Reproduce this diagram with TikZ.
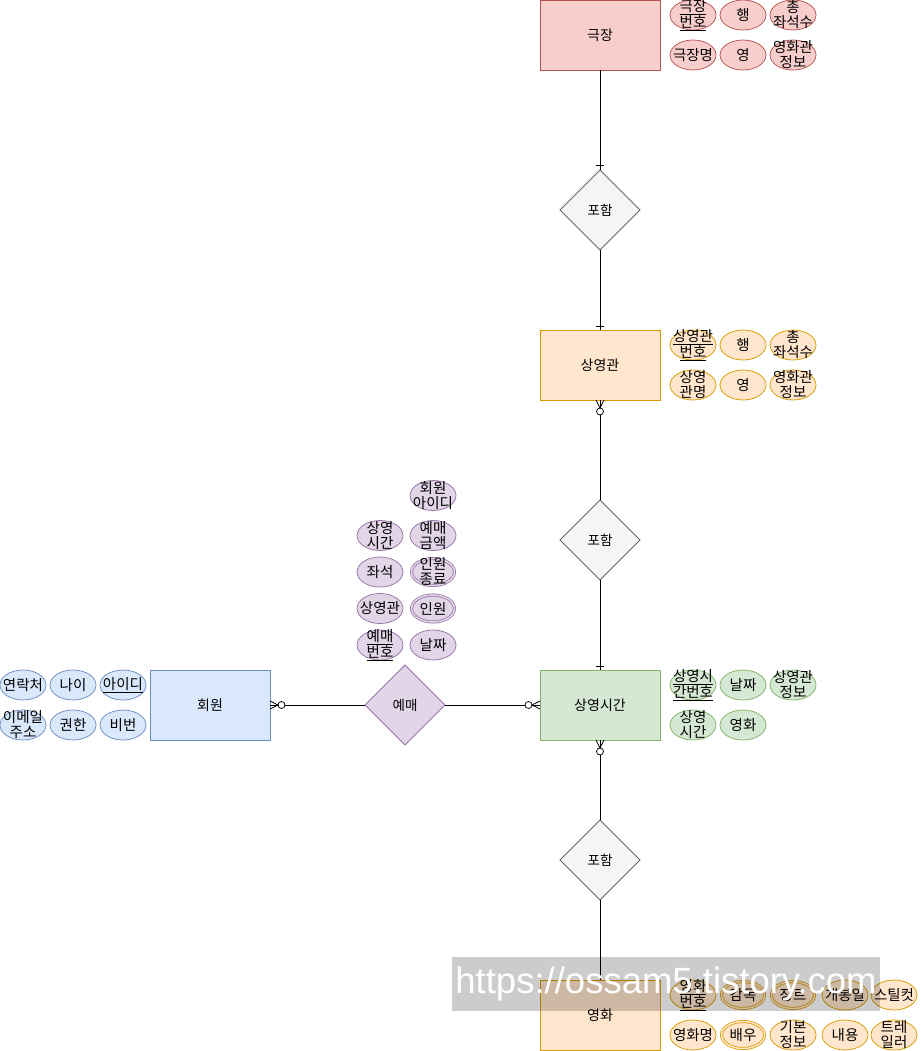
\documentclass[tikz,border=0pt]{standalone}
\usepackage{fontspec}
\setmainfont{Noto Sans CJK KR}
\newfontfamily\urlfont{Liberation Sans}
\usepackage{tikz}
\usetikzlibrary{positioning,shapes.geometric,calc}
\definecolor{roseFill}{HTML}{F8CECC}
\definecolor{roseLine}{HTML}{B85450}
\definecolor{peachFill}{HTML}{FFE6CC}
\definecolor{peachLine}{HTML}{D79B00}
\definecolor{sageFill}{HTML}{D5E8D4}
\definecolor{sageLine}{HTML}{82B366}
\definecolor{skyFill}{HTML}{DAE8FC}
\definecolor{skyLine}{HTML}{6C8EBF}
\definecolor{lilacFill}{HTML}{E1D5E7}
\definecolor{lilacLine}{HTML}{9673A6}
\definecolor{ashFill}{HTML}{F5F5F5}
\definecolor{ashLine}{HTML}{666666}
\tikzset{
  entitybox/.style={
    rectangle, draw=#1Line, fill=#1Fill,
    minimum width=120pt, minimum height=70pt,
    font=\fontsize{14}{16}\selectfont, align=center,
    inner sep=2pt, outer sep=0pt
  },
  entitybox/.default=peach,
  relbox/.style={
    diamond, aspect=1, draw=#1Line, fill=#1Fill,
    minimum width=80pt, minimum height=80pt,
    font=\fontsize{13.5}{15}\selectfont, inner sep=0pt, outer sep=0pt
  },
  relbox/.default=ash,
  attr/.style={
    ellipse, draw=#1Line, fill=#1Fill,
    minimum width=46pt, minimum height=30pt,
    font=\fontsize{14.5}{15}\selectfont, align=center,
    inner sep=-8pt, outer sep=0pt
  },
  attr/.default=peach,
  attrdbl/.style={
    attr=#1, double=#1Fill, double distance=1.5pt,
    minimum width=43pt, minimum height=27pt, outer sep=1.5pt
  },
  attrdbl/.default=peach,
  wmark/.style={
    fill=black, fill opacity=0.2, text opacity=1, text=white,
    minimum width=428pt, minimum height=54pt, inner sep=0pt,
    font=\urlfont\fontsize{36.5}{40}\selectfont
  },
  onebar/.pic={\draw (-4,0) -- (4,0);},
  zeromany/.pic={
    \draw (0,-4) -- (8,0) -- (0,4);
    \draw[fill=white] (11.5,0) circle[radius=3.5pt];
  },
}
\begin{document}
\begin{tikzpicture}[x=1pt, y=-1pt, line width=0.75pt, node distance=4pt and 4pt]
  \useasboundingbox (0,0) rectangle (920,1051);

  % main column, top to bottom
  \node[entitybox=rose] (gj) at (600,35) {극장};
  \node[relbox, below=100pt of gj] (p1) {포함};
  \node[entitybox=peach, below=80pt of p1] (sgg) {상영관};
  \node[relbox, below=100pt of sgg] (p2) {포함};
  \node[entitybox=sage, below=90pt of p2] (sgs) {상영시간};
  \node[relbox, below=80pt of sgs] (p3) {포함};
  \node[entitybox=peach, below=80pt of p3] (yh) {영화};

  % left branch: booking
  \node[relbox=lilac, left=95pt of sgs] (ym) {예매};
  \node[entitybox=sky, left=95pt of ym] (hw) {회원};

  % attributes of 극장
  \node[attr=rose, right=10pt of gj, yshift=20pt] (gj1) {\underline{극장}\\\underline{번호}};
  \node[attr=rose, right=of gj1] (gj2) {행};
  \node[attr=rose, right=of gj2] (gj3) {총\\좌석수};
  \node[attr=rose, below=10pt of gj1] (gj4) {극장명};
  \node[attr=rose, right=of gj4] (gj5) {영};
  \node[attr=rose, right=of gj5] (gj6) {영화관\\정보};

  % attributes of 상영관
  \node[attr, right=10pt of sgg, yshift=20pt] (sgg1) {\underline{상영관}\\\underline{번호}};
  \node[attr, right=of sgg1] (sgg2) {행};
  \node[attr, right=of sgg2] (sgg3) {총\\좌석수};
  \node[attr, below=10pt of sgg1] (sgg4) {상영\\관명};
  \node[attr, right=of sgg4] (sgg5) {영};
  \node[attr, right=of sgg5] (sgg6) {영화관\\정보};

  % attributes of 상영시간
  \node[attr=sage, right=10pt of sgs, yshift=20pt] (sgs1) {\underline{상영시}\\\underline{간번호}};
  \node[attr=sage, right=of sgs1] (sgs2) {날짜};
  \node[attr=sage, right=of sgs2] (sgs3) {상영관\\정보};
  \node[attr=sage, below=10pt of sgs1] (sgs4) {상영\\시간};
  \node[attr=sage, right=of sgs4] (sgs5) {영화};

  % attributes of 영화
  \node[attr, right=10pt of yh, yshift=20pt] (yh1) {\underline{영화}\\\underline{번호}};
  \node[attrdbl, right=of yh1] (yh2) {감독};
  \node[attrdbl, right=of yh2] (yh3) {장르};
  \node[attr, right=6pt of yh3] (yh4) {개봉일};
  \node[attr, right=3pt of yh4] (yh5) {스틸컷};
  \node[attr, below=10pt of yh1] (yh6) {영화명};
  \node[attrdbl, right=of yh6] (yh7) {배우};
  \node[attr, right=of yh7] (yh8) {기본\\정보};
  \node[attr, right=6pt of yh8] (yh9) {내용};
  \node[attr, right=3pt of yh9] (yh10) {트레\\일러};

  % attributes of 회원
  \node[attr=sky, left=4pt of hw, yshift=20pt] (hw1) {\underline{아이디}};
  \node[attr=sky, left=of hw1] (hw2) {나이};
  \node[attr=sky, left=of hw2] (hw3) {연락처};
  \node[attr=sky, below=10pt of hw1] (hw4) {비번};
  \node[attr=sky, left=of hw4] (hw5) {권한};
  \node[attr=sky, left=of hw5] (hw6) {이메일\\주소};

  % attributes of 예매
  \node[attr=lilac] (ym1) at (380,645) {\underline{예매}\\\underline{번호}};
  \node[attr=lilac, right=7pt of ym1] (ym2) {날짜};
  \node[attr=lilac, above=6.5pt of ym1] (ym3) {상영관};
  \node[attrdbl=lilac, right=7pt of ym3] (ym4) {인원};
  \node[attr=lilac, above=6.5pt of ym3] (ym5) {좌석};
  \node[attrdbl=lilac, right=7pt of ym5] (ym6) {인원\\종료};
  \node[attr=lilac, above=6.5pt of ym5] (ym7) {상영\\시간};
  \node[attr=lilac, right=7pt of ym7] (ym8) {예매\\금액};
  \node[attr=lilac, above=10pt of ym8] (ym9) {회원\\아이디};

  % connectors
  \draw (gj) -- (p1);
  \draw (p1) -- (sgg);
  \draw (sgg) -- (p2);
  \draw (p2) -- (sgs);
  \draw (sgs) -- (p3);
  \draw (p3) -- (yh);
  \draw (hw) -- (ym);
  \draw (ym) -- (sgs);

  % cardinality marks
  \pic at ($(p1.north)+(0,-5)$) {onebar};
  \pic at ($(sgg.north)+(0,-4)$) {onebar};
  \pic at ($(sgs.north)+(0,-4)$) {onebar};
  \pic[rotate=-90] at (sgg.south) {zeromany};
  \pic[rotate=-90] at (sgs.south) {zeromany};
  \pic at (hw.east) {zeromany};
  \pic[rotate=180] at (sgs.west) {zeromany};

  % watermark band
  \node[wmark] (wm) at (666,984) {https://ossam5.tistory.com};
\end{tikzpicture}
\end{document}
